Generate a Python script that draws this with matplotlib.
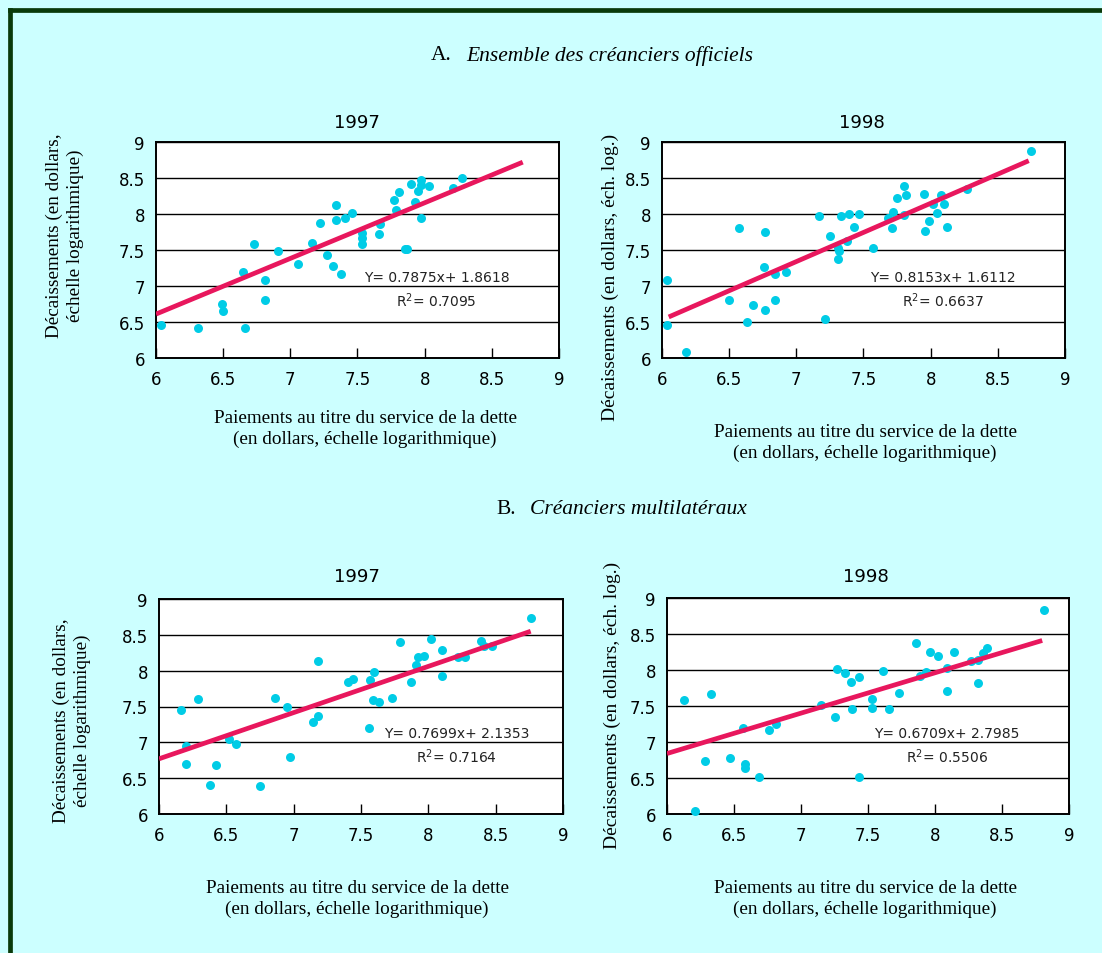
import matplotlib.pyplot as plt
from matplotlib.lines import Line2D
from matplotlib.ticker import FormatStrFormatter

# A. Ensemble des créanciers officiels, 1997
a97_x = [6.04, 6.31, 6.49, 6.50, 6.65, 6.66, 6.73, 6.81, 6.81, 6.91, 7.06, 7.16, 7.22,
         7.27, 7.32, 7.34, 7.34, 7.38, 7.41, 7.46, 7.53, 7.53, 7.53, 7.66, 7.67, 7.77,
         7.79, 7.81, 7.85, 7.87, 7.90, 7.93, 7.95, 7.97, 7.97, 7.97, 8.03, 8.21, 8.28]
a97_y = [6.46, 6.41, 6.75, 6.65, 7.20, 6.42, 7.59, 7.08, 6.81, 7.48, 7.31, 7.60, 7.87,
         7.43, 7.28, 8.12, 7.91, 7.17, 7.94, 8.01, 7.74, 7.67, 7.59, 7.72, 7.86, 8.20,
         8.06, 8.31, 7.51, 7.51, 8.42, 8.17, 8.32, 8.47, 8.40, 7.94, 8.39, 8.36, 8.50]
a97_fit_x = [6.0, 8.73]
a97_fit_y = [6.61, 8.72]

# A. Ensemble des créanciers officiels, 1998
a98_x = [6.04, 6.04, 6.18, 6.50, 6.57, 6.63, 6.68, 6.76, 6.77, 6.77, 6.84, 6.84, 6.92,
         7.17, 7.21, 7.25, 7.31, 7.32, 7.31, 7.33, 7.38, 7.39, 7.43, 7.47, 7.57, 7.68,
         7.71, 7.72, 7.75, 7.80, 7.80, 7.82, 7.95, 7.96, 7.99, 8.02, 8.05, 8.08, 8.10,
         8.12, 8.27, 8.75]
a98_y = [7.08, 6.46, 6.09, 6.81, 7.81, 6.50, 6.74, 7.27, 7.75, 6.66, 7.16, 6.81, 7.20,
         7.97, 6.54, 7.69, 7.53, 7.49, 7.38, 7.97, 7.62, 8.00, 7.82, 8.00, 7.53, 7.94,
         7.80, 8.03, 8.22, 8.39, 7.98, 8.27, 8.28, 7.76, 7.90, 8.14, 8.01, 8.26, 8.14,
         7.82, 8.35, 8.88]
a98_fit_x = [6.05, 8.73]
a98_fit_y = [6.57, 8.74]

# B. Créanciers multilatéraux, 1997
b97_x = [6.16, 6.20, 6.20, 6.29, 6.38, 6.42, 6.52, 6.57, 6.75, 6.86, 6.95, 6.97, 7.14,
         7.18, 7.18, 7.40, 7.44, 7.56, 7.57, 7.60, 7.59, 7.63, 7.73, 7.79, 7.87, 7.91,
         7.92, 7.97, 8.02, 8.10, 8.10, 8.22, 8.27, 8.39, 8.41, 8.47, 8.76]
b97_y = [7.45, 6.95, 6.70, 7.60, 6.40, 6.69, 7.04, 6.98, 6.39, 7.62, 7.49, 6.80, 7.28,
         7.37, 8.14, 7.84, 7.88, 7.20, 7.87, 7.98, 7.59, 7.56, 7.62, 8.40, 7.84, 8.08,
         8.19, 8.21, 8.44, 8.29, 7.92, 8.19, 8.19, 8.42, 8.34, 8.34, 8.74]
b97_fit_x = [6.0, 8.76]
b97_fit_y = [6.77, 8.55]

# B. Créanciers multilatéraux, 1998
b98_x = [6.13, 6.21, 6.28, 6.33, 6.47, 6.57, 6.58, 6.58, 6.69, 6.76, 6.81, 7.15, 7.25,
         7.27, 7.33, 7.37, 7.38, 7.43, 7.43, 7.53, 7.53, 7.61, 7.66, 7.73, 7.86, 7.89,
         7.93, 7.96, 8.02, 8.09, 8.09, 8.14, 8.27, 8.32, 8.32, 8.36, 8.39, 8.81]
b98_y = [7.59, 6.04, 6.74, 7.67, 6.78, 7.20, 6.70, 6.64, 6.52, 7.17, 7.25, 7.51, 7.35,
         8.01, 7.96, 7.83, 7.46, 7.90, 6.52, 7.60, 7.47, 7.98, 7.46, 7.68, 8.37, 7.92,
         7.97, 8.25, 8.20, 8.03, 7.71, 8.25, 8.13, 8.14, 7.82, 8.23, 8.31, 8.83]
b98_fit_x = [6.0, 8.80]
b98_fit_y = [6.84, 8.41]

equations = ['Y= 0.7875x+ 1.8618', 'Y= 0.8153x+ 1.6112',
             'Y= 0.7699x+ 2.1353', 'Y= 0.6709x+ 2.7985']
r_squared = ['0.7095', '0.6637', '0.7164', '0.5506']
years = ['1997', '1998', '1997', '1998']

xlabel = 'Paiements au titre du service de la dette\n(en dollars, échelle logarithmique)'
ylabel_long = 'Décaissements (en dollars,\néchelle logarithmique)'
ylabel_short = 'Décaissements (en dollars, éch. log.)'

W, H = 1102, 954
BG = '#CCFFFF'
DOT = '#00CCE6'
LINE = '#E8175D'
SERIF = 'Liberation Serif'


def px_axes(fig, left, top, right, bottom):
    return fig.add_axes([left / W, 1 - bottom / H, (right - left) / W, (bottom - top) / H])


def draw_panel(ax, x, y, fit_x, fit_y, eq, r2, eq_x):
    ax.set_facecolor('white')
    ax.scatter(x, y, s=42, color=DOT, linewidths=0, zorder=3, clip_on=False)
    ax.plot(fit_x, fit_y, color=LINE, linewidth=3.4, solid_capstyle='butt', zorder=4)
    ax.set_xlim(6, 9)
    ax.set_ylim(6, 9)
    ax.set_xticks([6, 6.5, 7, 7.5, 8, 8.5, 9])
    ax.set_yticks([6, 6.5, 7, 7.5, 8, 8.5, 9])
    ax.xaxis.set_major_formatter(FormatStrFormatter('%g'))
    ax.yaxis.set_major_formatter(FormatStrFormatter('%g'))
    ax.tick_params(axis='x', direction='in', length=7, width=1, pad=9, labelsize=12)
    ax.tick_params(axis='y', length=0, pad=8, labelsize=12)
    ax.yaxis.grid(True, color='black', linewidth=1.0)
    ax.set_axisbelow(True)
    for s in ax.spines.values():
        s.set_linewidth(1.4)
    ax.text(eq_x, 7.13, eq, ha='center', va='center', fontsize=10, color='#222222', zorder=5)
    ax.text(eq_x, 6.81, 'R$^2$= ' + r2, ha='center', va='center', fontsize=10,
            color='#222222', zorder=5)


fig = plt.figure(figsize=(W / 100, H / 100), dpi=100)
fig.patch.set_facecolor(BG)

# dark green frame, only left and top edges show
fig.add_artist(Line2D([10 / W, 10 / W], [0, 1 - 11 / H], transform=fig.transFigure,
                      color='#0A3A0A', linewidth=3.4))
fig.add_artist(Line2D([10 / W, 1], [1 - 11 / H, 1 - 11 / H], transform=fig.transFigure,
                      color='#0A3A0A', linewidth=3.4, solid_capstyle='projecting'))

ax1 = px_axes(fig, 156, 143, 559, 359)
ax2 = px_axes(fig, 662, 143, 1065, 359)
ax3 = px_axes(fig, 159, 600, 563, 815)
ax4 = px_axes(fig, 667, 599, 1069, 815)

draw_panel(ax1, a97_x, a97_y, a97_fit_x, a97_fit_y, equations[0], r_squared[0], 8.09)
draw_panel(ax2, a98_x, a98_y, a98_fit_x, a98_fit_y, equations[1], r_squared[1], 8.09)
draw_panel(ax3, b97_x, b97_y, b97_fit_x, b97_fit_y, equations[2], r_squared[2], 8.21)
draw_panel(ax4, b98_x, b98_y, b98_fit_x, b98_fit_y, equations[3], r_squared[3], 8.09)

# panel years
for (cx, cy), yr in zip([(357, 123), (862, 123), (357, 577), (866, 577)], years):
    fig.text(cx / W, 1 - cy / H, yr, ha='center', va='center', fontsize=13)

# x labels
for cx, cy in [(365, 429), (865, 443), (357, 899), (865, 899)]:
    fig.text(cx / W, 1 - cy / H, xlabel, ha='center', va='center', fontsize=13.8,
             family=SERIF, linespacing=1.3)

# y labels
fig.text(65 / W, 1 - 236 / H, ylabel_long, ha='center', va='center', rotation=90,
         fontsize=13.8, family=SERIF, linespacing=1.3)
fig.text(72 / W, 1 - 721 / H, ylabel_long, ha='center', va='center', rotation=90,
         fontsize=13.8, family=SERIF, linespacing=1.3)
fig.text(610 / W, 1 - 277 / H, ylabel_short, ha='center', va='center', rotation=90,
         fontsize=14, family=SERIF)
fig.text(612 / W, 1 - 705 / H, ylabel_short, ha='center', va='center', rotation=90,
         fontsize=14, family=SERIF)

# section headings
fig.text(452 / W, 1 - 56 / H, 'A.', ha='right', va='center', fontsize=15.5, family=SERIF)
fig.text(466 / W, 1 - 56 / H, 'Ensemble des créanciers officiels', ha='left', va='center',
         fontsize=15.5, family=SERIF, style='italic')
fig.text(516 / W, 1 - 509 / H, 'B.', ha='right', va='center', fontsize=15.5, family=SERIF)
fig.text(530 / W, 1 - 509 / H, 'Créanciers multilatéraux', ha='left', va='center',
         fontsize=15.5, family=SERIF, style='italic')

plt.savefig('out.png', dpi=100, facecolor=BG)
